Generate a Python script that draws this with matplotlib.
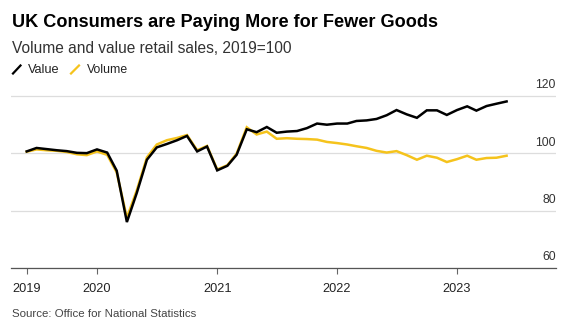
import matplotlib
matplotlib.use("Agg")
import matplotlib.pyplot as plt
import matplotlib.dates as mdates
from matplotlib.lines import Line2D
from matplotlib.transforms import ScaledTranslation
import pandas as pd

# ---- data ----
start_month = "2019-06-01"
value = [100.6, 101.8, 101.4, 101.0, 100.7, 100.1, 100.0, 101.3, 100.2, 93.9,
         76.0, 86.1, 97.7, 102.0, 103.2, 104.5, 106.0, 100.6, 102.3, 94.0,
         95.6, 99.4, 108.3, 107.3, 109.1, 107.1, 107.5, 107.7, 108.7, 110.3,
         109.9, 110.3, 110.3, 111.2, 111.4, 111.9, 113.2, 115.0, 113.5, 112.3,
         114.9, 114.9, 113.3, 115.0, 116.3, 114.8, 116.4, 117.2, 118.0]
volume = [100.5, 101.3, 101.0, 100.8, 100.4, 99.6, 99.3, 100.6, 99.4, 93.3,
          77.5, 87.0, 98.5, 103.0, 104.5, 105.3, 106.3, 101.0, 102.5, 94.3,
          95.8, 99.8, 109.0, 106.5, 107.5, 105.0, 105.2, 105.0, 104.9, 104.7,
          103.9, 103.5, 103.0, 102.4, 101.8, 100.8, 100.2, 100.7, 99.3, 97.7,
          99.1, 98.4, 96.9, 97.9, 99.1, 97.7, 98.3, 98.4, 99.1]
year_tick_dates = ["2019-06-01", "2020-01-01", "2021-01-01", "2022-01-01", "2023-01-01"]
year_tick_labels = ["2019", "2020", "2021", "2022", "2023"]
y_ticks = [60, 80, 100, 120]
y_tick_labels = ["60", "80", "100", "120"]
series_names = ["Value", "Volume"]

title = "UK Consumers are Paying More for Fewer Goods"
subtitle = "Volume and value retail sales, 2019=100"
source = "Source: Office for National Statistics"

dates = pd.date_range(start_month, periods=len(value), freq="MS")

# ---- style ----
W, H = 575, 329
BLACK = "#000000"
YELLOW = "#f5c31c"
plt.rcParams['font.family'] = ['Liberation Sans', 'DejaVu Sans']

fig = plt.figure(figsize=(W / 100, H / 100), dpi=100)


def fx(x):
    return x / W


def fy(y):
    return 1 - y / H


# axes placement (pixel coordinates)
ax_left, ax_right = 11, 556
y_bottom_px = 268.0
px_per_unit = (268.0 - 95.7) / 60.0
ymin, ymax = 60, 125
ax_top_px = y_bottom_px - (ymax - ymin) * px_per_unit
ax = fig.add_axes([fx(ax_left), fy(y_bottom_px), (ax_right - ax_left) / W,
                   (y_bottom_px - ax_top_px) / H])

ax.plot(dates, volume, color=YELLOW, lw=1.8, solid_joinstyle="miter", zorder=3)
ax.plot(dates, value, color=BLACK, lw=1.8, solid_joinstyle="miter", zorder=4)

# x limits: first point at 26.7px, 10px per month
x0 = mdates.date2num(pd.Timestamp(start_month))
pm = (mdates.date2num(pd.Timestamp("2023-01-01")) - mdates.date2num(pd.Timestamp("2020-01-01"))) / 36
ax.set_xlim(x0 - (26.7 - ax_left) / 10 * pm, x0 + (ax_right - 26.7) / 10 * pm)
ax.set_ylim(ymin, ymax)

ax.set_xticks([pd.Timestamp(d) for d in year_tick_dates])
ax.set_xticklabels(year_tick_labels)
ax.tick_params(axis="x", length=4, width=0.8, color="#666666", pad=7,
               labelsize=9.2, labelcolor="#222222")

ax.set_yticks(y_ticks)
ax.set_yticklabels(y_tick_labels)
ax.yaxis.tick_right()
ax.tick_params(axis="y", length=0, pad=0, labelsize=8.8, labelcolor="#333333")
off = ScaledTranslation(0, 7.5 / 100, fig.dpi_scale_trans)
for lab in ax.get_yticklabels():
    lab.set_horizontalalignment("right")
    lab.set_verticalalignment("baseline")
    lab.set_transform(lab.get_transform() + off)

ax.grid(axis="y", color="#dddddd", lw=0.9)
ax.set_axisbelow(True)
for s in ["top", "left", "right"]:
    ax.spines[s].set_visible(False)
ax.spines["bottom"].set_color("#555555")
ax.spines["bottom"].set_linewidth(0.9)
ax.set_facecolor("none")

# ---- texts ----
texts = []
t_title = fig.text(fx(12), fy(26.7), title, fontsize=13, fontweight="bold",
                   color="#000000", va="baseline", ha="left")
t_sub = fig.text(fx(11.7), fy(52.7), subtitle, fontsize=11, color="#333333",
                 va="baseline", ha="left")
t_v1 = fig.text(fx(28.3), fy(73.3), series_names[0], fontsize=10, color="#222222",
                va="baseline", ha="left")
t_v2 = fig.text(fx(87.3), fy(73.3), series_names[1], fontsize=10, color="#222222",
                va="baseline", ha="left")
t_src = fig.text(fx(11.7), fy(316.7), source, fontsize=9, color="#444444",
                 va="baseline", ha="left")

fig.add_artist(Line2D([fx(13), fx(20.5)], [fy(73.5), fy(65.5)], color=BLACK, lw=1.6,
                      transform=fig.transFigure))
fig.add_artist(Line2D([fx(71), fx(79)], [fy(73.5), fy(65.5)], color=YELLOW, lw=1.6,
                      transform=fig.transFigure))

targets = [(t_title, 425), (t_sub, 280), (t_v1, 31.7), (t_v2, 41), (t_src, 185)]
fig.canvas.draw()
r = fig.canvas.get_renderer()
for t, w in targets:
    cur = t.get_window_extent(r).width
    t.set_fontsize(t.get_fontsize() * w / cur)

fig.savefig("out.png", dpi=100, facecolor="white")
